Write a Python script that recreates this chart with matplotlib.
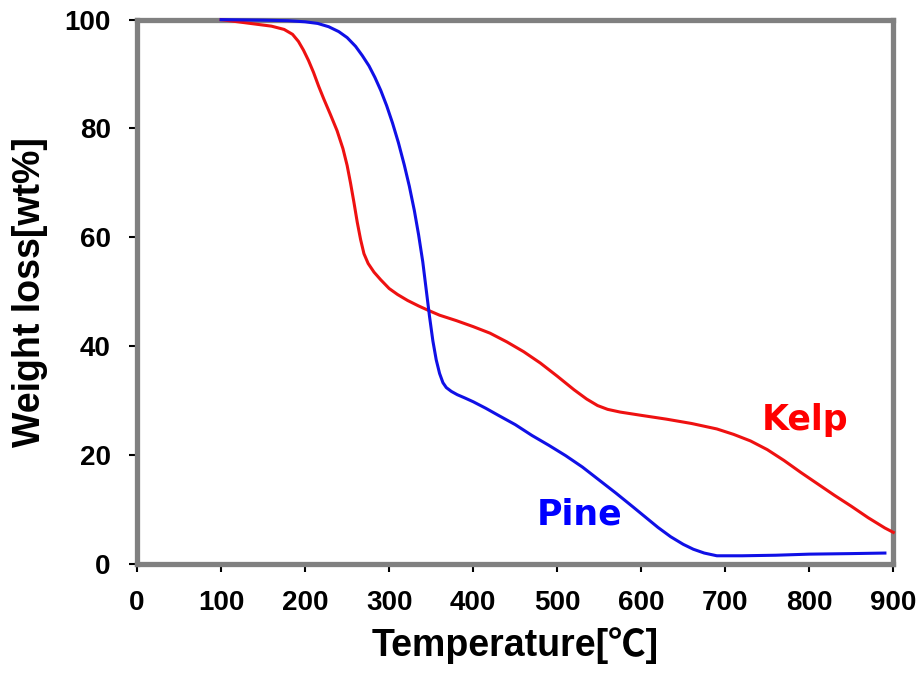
"""
TGA curves: Kelp vs Pine weight loss
"""

import matplotlib
matplotlib.use("Agg")
import matplotlib.pyplot as plt

kelp_temp = [100, 120, 140, 160, 175, 185, 192, 198, 204, 210, 216, 222, 230,
             238, 245, 250, 254, 258, 262, 266, 270, 275, 282, 290, 300, 310,
             322, 335, 345, 360, 380, 400, 420, 440, 460, 480, 500, 520, 535,
             548, 560, 575, 600, 630, 660, 690, 710, 730, 750, 770, 790, 810,
             830, 850, 870, 890, 900]
kelp_weight = [100, 99.6, 99.2, 98.8, 98.2, 97.3, 96.0, 94.4, 92.5, 90.3, 87.8,
               85.5, 82.6, 79.6, 76.3, 73.2, 70.0, 66.5, 62.8, 59.6, 57.0,
               55.2, 53.6, 52.2, 50.6, 49.5, 48.4, 47.4, 46.7, 45.7, 44.7,
               43.6, 42.4, 40.8, 39.0, 36.9, 34.5, 32.0, 30.3, 29.1, 28.4,
               27.9, 27.3, 26.6, 25.8, 24.8, 23.8, 22.6, 21.0, 19.0, 16.8,
               14.7, 12.6, 10.6, 8.5, 6.6, 5.8]

pine_temp = [100, 150, 180, 200, 215, 228, 240, 250, 260, 268, 276, 283, 290,
             297, 304, 311, 318, 324, 330, 335, 340, 344, 348, 352, 356, 360,
             364, 368, 374, 381, 390, 400, 415, 430, 450, 470, 490, 510, 530,
             550, 570, 590, 605, 620, 635, 650, 662, 675, 690, 720, 760, 800,
             850, 890]
pine_weight = [100, 99.9, 99.8, 99.6, 99.3, 98.7, 97.8, 96.7, 95.1, 93.4, 91.5,
               89.4, 87.0, 84.2, 81.0, 77.4, 73.3, 69.4, 64.9, 60.5, 55.5,
               50.5, 45.5, 41.0, 37.5, 35.0, 33.3, 32.4, 31.7, 31.1, 30.5,
               29.8, 28.6, 27.3, 25.6, 23.6, 21.8, 19.9, 17.8, 15.4, 13.0,
               10.5, 8.6, 6.7, 5.0, 3.6, 2.7, 2.0, 1.5, 1.5, 1.6, 1.8, 1.9,
               2.0]

x_ticks = list(range(0, 1000, 100))
y_ticks = list(range(0, 120, 20))

FONT = ["Liberation Sans", "Noto Sans CJK SC", "DejaVu Sans"]


def main():
    plt.rcParams["font.family"] = FONT
    fig = plt.figure(figsize=(9.2, 6.77), dpi=100)
    ax = fig.add_axes([0.149, 0.167, 0.822, 0.804])

    ax.plot(kelp_temp, kelp_weight, color="#ee1111", lw=2.2, clip_on=False,
            zorder=5, solid_joinstyle="round")
    ax.plot(pine_temp, pine_weight, color="#1010e6", lw=2.2, clip_on=False,
            zorder=5, solid_joinstyle="round")

    ax.set_xlim(0, 900)
    ax.set_ylim(0, 100)
    ax.set_xticks(x_ticks)
    ax.set_yticks(y_ticks)
    ax.tick_params(direction="out", length=6, width=1.5, color="black",
                   pad=13, labelsize=20)
    for lab in ax.get_xticklabels() + ax.get_yticklabels():
        lab.set_fontweight("bold")

    for sp in ax.spines.values():
        sp.set_color("#808080")
        sp.set_linewidth(3.8)

    ax.set_xlabel("Temperature[℃]", fontsize=27, fontweight="bold",
                  labelpad=8)
    ax.set_ylabel("Weight loss[wt%]", fontsize=27, fontweight="bold",
                  labelpad=12)

    ax.text(795, 26.5, "Kelp", color="#ff0000", fontsize=25,
            fontweight="bold", family="DejaVu Sans", ha="center",
            va="center")
    ax.text(527, 9, "Pine", color="#0000ff", fontsize=25,
            fontweight="bold", family="DejaVu Sans", ha="center",
            va="center")

    fig.savefig("out.png", dpi=100)
    plt.close(fig)


if __name__ == "__main__":
    main()
